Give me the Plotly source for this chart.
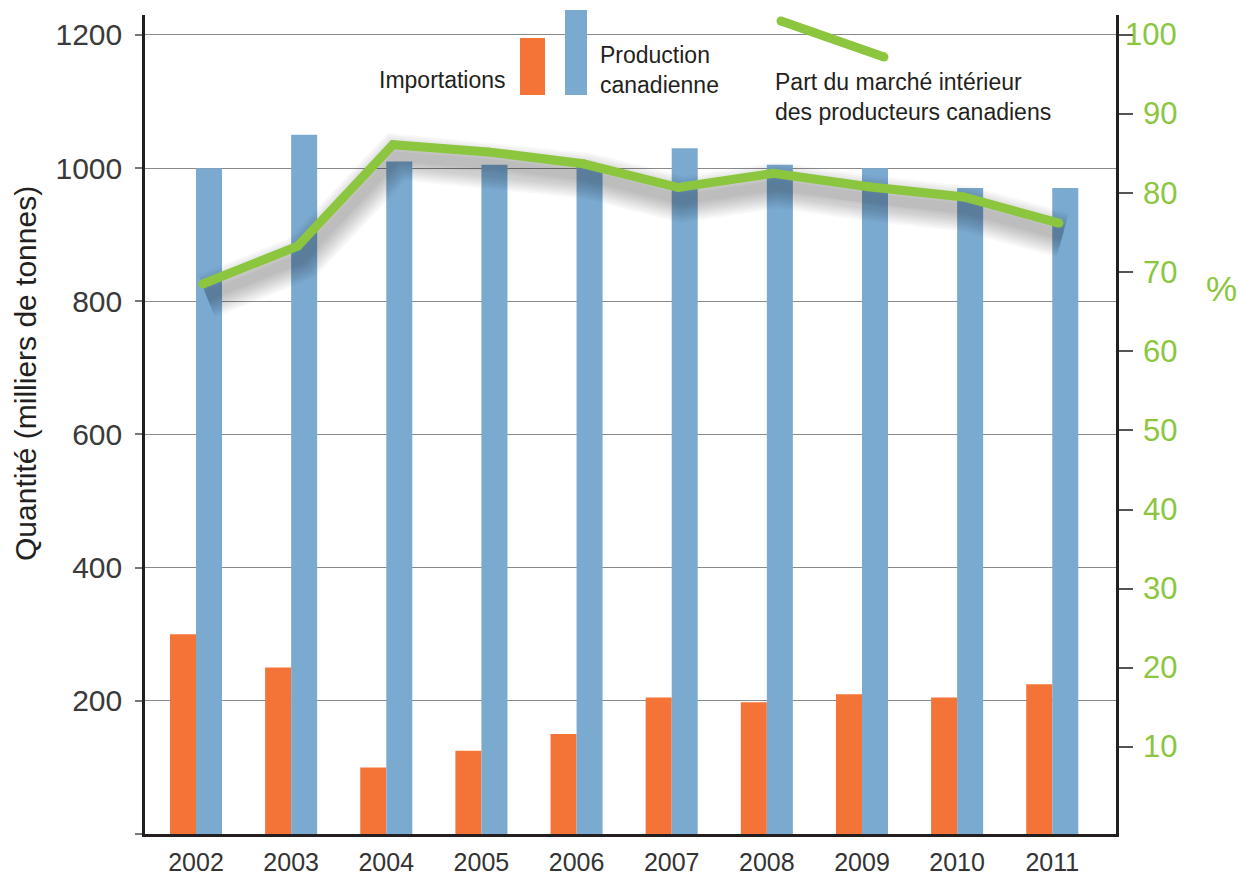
import plotly.graph_objects as go

# Données
annees = ["2002", "2003", "2004", "2005", "2006", "2007", "2008", "2009", "2010", "2011"]
importations = [300, 250, 100, 125, 150, 205, 198, 210, 205, 225]
production = [1000, 1050, 1010, 1005, 1003, 1030, 1005, 1000, 970, 970]
part_marche = [68.5, 73.3, 86.1, 85.2, 83.7, 80.7, 82.5, 80.8, 79.5, 76.2]

ticks_gauche = [0, 200, 400, 600, 800, 1000, 1200]
ticks_droite = [10, 20, 30, 40, 50, 60, 70, 80, 90, 100]

ORANGE = "#F37436"
BLEU = "#7BAAD1"
VERT = "#8CC63F"
SANS = "Liberation Sans, Arial, Helvetica, sans-serif"

W, H = 1241, 876
L, R, T, B = 145, 1116, 15, 834  # zone de tracé (px)

idx = list(range(len(annees)))
x_ligne = [i + 0.07 for i in idx]

YP_RANGE = [-1.0, 102.5]
px_par_unite = (B - T) / (YP_RANGE[1] - YP_RANGE[0])
decal_ombre = 12 / px_par_unite

fig = go.Figure()

fig.add_trace(go.Bar(x=idx, y=importations, name="Importations",
                     marker=dict(color=ORANGE, line=dict(width=0))))
fig.add_trace(go.Bar(x=idx, y=production, name="Production canadienne",
                     marker=dict(color=BLEU, line=dict(width=0))))

# ombre portée floue de la courbe (axe décalé vers le bas, invisible)
for w in range(46, 6, -4):
    fig.add_trace(go.Scatter(x=[v + 0.04 for v in x_ligne], y=part_marche, yaxis="y2",
                             mode="lines", line=dict(color="rgba(0,0,0,0.026)", width=w),
                             hoverinfo="skip", showlegend=False))

fig.add_trace(go.Scatter(x=x_ligne, y=part_marche, yaxis="y3", mode="lines+markers",
                         name="Part du marché intérieur des producteurs canadiens",
                         line=dict(color=VERT, width=9),
                         marker=dict(color=VERT, size=9, line=dict(width=0))))


def px_x(p):
    return (p - L) / (R - L)


def px_y(p):
    return (B - p) / (B - T)


shapes = [
    # légende : rectangles
    dict(type="rect", xref="paper", yref="paper", x0=px_x(520), x1=px_x(545),
         y0=px_y(95), y1=px_y(38), fillcolor=ORANGE, line=dict(width=0)),
    dict(type="rect", xref="paper", yref="paper", x0=px_x(565), x1=px_x(587),
         y0=px_y(95), y1=px_y(10), fillcolor=BLEU, line=dict(width=0)),
    # légende : trait vert
    dict(type="line", xref="paper", yref="paper", x0=px_x(781), y0=px_y(21),
         x1=px_x(884), y1=px_y(57), line=dict(color=VERT, width=9)),
]
for cx, cy in [(781, 21), (884, 57)]:
    shapes.append(dict(type="circle", xref="paper", yref="paper",
                       x0=px_x(cx - 4.5), x1=px_x(cx + 4.5),
                       y0=px_y(cy + 4.5), y1=px_y(cy - 4.5),
                       fillcolor=VERT, line=dict(width=0)))

annotations = [
    dict(text="Importations", xref="paper", yref="paper", x=px_x(508), y=px_y(80),
         xanchor="right", yanchor="middle", showarrow=False,
         font=dict(family=SANS, size=23, color="#231F20")),
    dict(text="Production<br>canadienne", xref="paper", yref="paper", x=px_x(598),
         y=px_y(70), xanchor="left", yanchor="middle", align="left", showarrow=False,
         font=dict(family=SANS, size=23, color="#231F20")),
    dict(text="Part du marché intérieur<br>des producteurs canadiens", xref="paper",
         yref="paper", x=px_x(773), y=px_y(97), xanchor="left", yanchor="middle",
         align="left", showarrow=False,
         font=dict(family=SANS, size=23, color="#231F20")),
    dict(text="%", xref="paper", yref="paper", x=px_x(1221), y=px_y(288),
         xanchor="center", yanchor="middle", showarrow=False,
         font=dict(family=SANS, size=35, color=VERT)),
    dict(text="Quantité (milliers de tonnes)", xref="paper", yref="paper",
         x=px_x(25), y=px_y(374), xanchor="center", yanchor="middle", textangle=-90,
         showarrow=False, font=dict(family=SANS, size=30, color="#231F20")),
]
# étiquettes de l'axe de droite, alignées à droite
for v in ticks_droite:
    annotations.append(dict(text=str(v), xref="paper", yref="y3", x=px_x(1179), y=v,
                            xanchor="right", yanchor="middle", showarrow=False,
                            font=dict(family=SANS, size=31, color=VERT)))

fig.update_layout(
    width=W, height=H,
    margin=dict(l=L, r=W - R, t=T, b=H - B, pad=0),
    paper_bgcolor="white", plot_bgcolor="white",
    barmode="group", bargap=0.453, bargroupgap=0,
    showlegend=False,
    xaxis=dict(range=[-0.536, 9.67], tickvals=idx, ticktext=annees, automargin=False,
               showgrid=False, zeroline=False, showline=True, linecolor="#231F20",
               linewidth=2.5, ticks="", ticklabelstandoff=4,
               tickfont=dict(family=SANS, size=25, color="#333333")),
    yaxis=dict(range=[0, 1230], tickvals=ticks_gauche, automargin=False,
               ticktext=["" if v == 0 else str(v) for v in ticks_gauche],
               showgrid=True, gridcolor="#8A8A8A", gridwidth=1, zeroline=False,
               showline=True, linecolor="#231F20", linewidth=2.5,
               ticks="outside", ticklen=7, tickcolor="#777777", tickwidth=1.5,
               ticklabelstandoff=7,
               tickfont=dict(family=SANS, size=30, color="#3A3A3A")),
    yaxis2=dict(range=[YP_RANGE[0] + decal_ombre, YP_RANGE[1] + decal_ombre],
                overlaying="y", visible=False),
    yaxis3=dict(range=YP_RANGE, overlaying="y", side="right", tickvals=ticks_droite,
                automargin=False, showticklabels=False, showgrid=False, zeroline=False,
                showline=True, linecolor="#231F20", linewidth=2.5, ticks="outside",
                ticklen=14, tickcolor="#555555", tickwidth=1.5),
    shapes=shapes,
    annotations=annotations,
)

fig.write_html("out.html")
